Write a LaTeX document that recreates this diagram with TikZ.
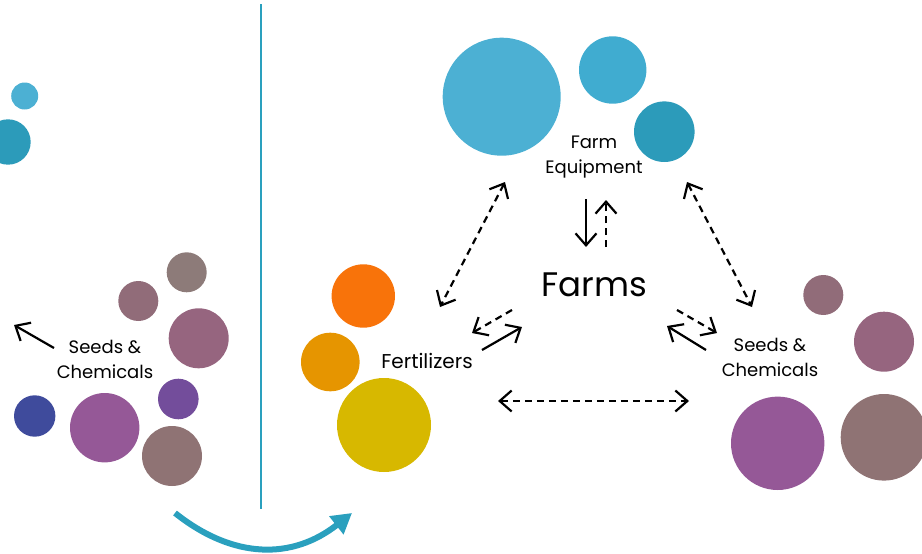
\documentclass[tikz,border=0pt]{standalone}
\usepackage{fontspec}
\setmainfont{Poppins}
\usetikzlibrary{arrows.meta}
\definecolor{skylight}{HTML}{4CB0D3}
\definecolor{skymid}{HTML}{40ACD0}
\definecolor{skydeep}{HTML}{2C9BBA}
\definecolor{divider}{HTML}{2AA0BE}
\definecolor{seedgrey}{HTML}{8D7B79}
\definecolor{seedrose}{HTML}{916C79}
\definecolor{seedmauve}{HTML}{96657F}
\definecolor{seedviolet}{HTML}{734D9B}
\definecolor{seedblue}{HTML}{3F4B9C}
\definecolor{seedplum}{HTML}{955897}
\definecolor{seedtaupe}{HTML}{8F7374}
\definecolor{fertorange}{HTML}{F8730A}
\definecolor{fertamber}{HTML}{E69500}
\definecolor{fertyellow}{HTML}{D7B800}
\tikzset{
  lbl/.style={font=\fontsize{18}{25}\selectfont, align=center, inner sep=0pt},
  barb/.tip={Straight Barb[length=12pt,width=21pt]},
  oneway/.style={line width=2.2pt, -barb},
  dashway/.style={line width=2.2pt, dash pattern=on 7pt off 5pt, -barb},
  twoway/.style={line width=2.2pt, dash pattern=on 7pt off 5pt, barb-barb}
}
\begin{document}
\begin{tikzpicture}[x=1pt, y=-1pt]
\useasboundingbox (0,0) rectangle (922,554);
\clip (0,0) rectangle (922,554);
% left half
\fill[skylight] (24.7,96) circle (13.5pt);
\fill[skydeep] (8,142) circle (22.7pt);
\fill[seedgrey] (186.7,272.3) circle (20pt);
\fill[seedrose] (138.3,301) circle (20pt);
\fill[seedmauve] (198.7,338.3) circle (30pt);
\fill[seedviolet] (178.3,399) circle (20.3pt);
\fill[seedblue] (34.7,416) circle (20.7pt);
\fill[seedplum] (104.7,427.7) circle (34.7pt);
\fill[seedtaupe] (172,456) circle (30pt);
\node[lbl] (seedsold) at (105,359) {Seeds \&\\Chemicals};
\coordinate (outstart) at (54,348);
\coordinate (outleft) at (14,325);
\draw[oneway] (outstart) -- (outleft);
\draw[divider, line width=1.5pt] (261,4) -- (261,509);
\draw[divider, line width=6pt, -{Triangle[length=20pt,width=22pt]}] (175,513) .. controls (233.7,559.7) and (292.7,559.7) .. (352,513);
% right half
\fill[skylight] (501.7,96.7) circle (59pt);
\fill[skymid] (612.7,70) circle (33.7pt);
\fill[skydeep] (664.3,131.7) circle (30.3pt);
\fill[fertorange] (363.3,296) circle (31.7pt);
\fill[fertamber] (330.3,362) circle (29.3pt);
\fill[fertyellow] (384,425) circle (47pt);
\fill[seedrose] (823.3,295) circle (20pt);
\fill[seedmauve] (884,341.7) circle (30pt);
\fill[seedplum] (777.7,443.3) circle (46.7pt);
\fill[seedtaupe] (884,437.3) circle (43.3pt);
\node[font=\fontsize{34}{40}\selectfont, inner sep=0pt] (farms) at (594,285) {Farms};
\node[lbl] (equip) at (594,157) {Farm\\Equipment};
\node[lbl, font=\fontsize{20}{25}\selectfont] (fert) at (427,361) {Fertilizers};
\node[lbl] (seeds) at (770,357) {Seeds \&\\Chemicals};
% connectors
\coordinate (eqL) at (505,182);
\coordinate (eqR) at (687,182);
\coordinate (fertT) at (440,307);
\coordinate (seedT) at (752,307);
\coordinate (eqDa) at (586,199);
\coordinate (eqDb) at (586,247);
\coordinate (eqUa) at (606,247);
\coordinate (eqUb) at (606,200);
\coordinate (fLa) at (512,310);
\coordinate (fLb) at (472,333);
\coordinate (fRa) at (482,350);
\coordinate (fRb) at (522,327);
\coordinate (sLa) at (677,310);
\coordinate (sLb) at (717,333);
\coordinate (sRa) at (706,350);
\coordinate (sRb) at (667,326);
\coordinate (botL) at (498,401);
\coordinate (botR) at (689,401);
\draw[twoway] (eqL) -- (fertT);
\draw[twoway] (eqR) -- (seedT);
\draw[twoway] (botL) -- (botR);
\draw[oneway] (eqDa) -- (eqDb);
\draw[dashway] (eqUa) -- (eqUb);
\draw[dashway] (fLa) -- (fLb);
\draw[oneway] (fRa) -- (fRb);
\draw[dashway] (sLa) -- (sLb);
\draw[oneway] (sRa) -- (sRb);
\end{tikzpicture}
\end{document}
